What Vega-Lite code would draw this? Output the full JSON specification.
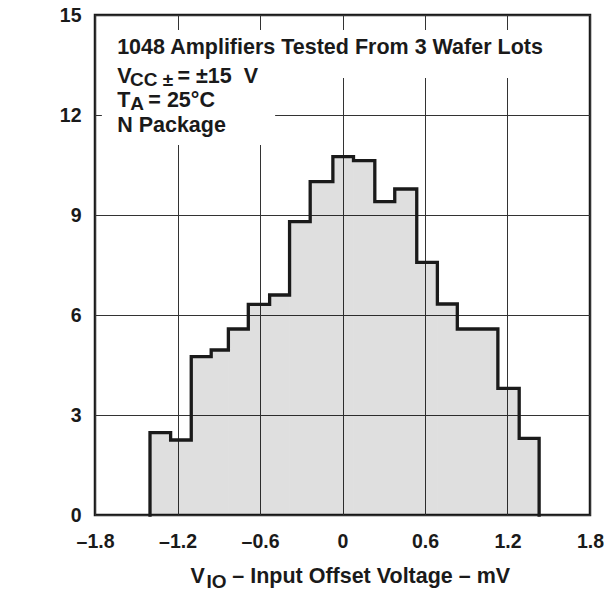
{
  "$schema": "https://vega.github.io/schema/vega-lite/v6.json",
  "width": 495,
  "height": 500,
  "autosize": {"type": "none"},
  "padding": {"left": 95, "top": 15, "right": 14, "bottom": 76},
  "background": "white",
  "view": {"stroke": "#1a1a1a", "strokeWidth": 2.5},
  "config": {
    "font": "Liberation Sans",
    "axis": {
      "domain": false,
      "ticks": false,
      "grid": true,
      "gridColor": "#333333",
      "gridWidth": 1,
      "gridOpacity": 1,
      "labelFont": "Liberation Sans",
      "labelFontWeight": "bold",
      "labelFontSize": 19.5,
      "labelColor": "#1a1a1a",
      "labelOverlap": false,
      "labelFlush": false,
      "titleFont": "Liberation Sans",
      "titleFontWeight": "bold",
      "titleFontSize": 22,
      "titleColor": "#1a1a1a"
    }
  },
  "datasets": {
    "bins": [
      {"start": -1.40, "end": -1.25, "pct": 2.47},
      {"start": -1.25, "end": -1.10, "pct": 2.25},
      {"start": -1.10, "end": -0.955, "pct": 4.75},
      {"start": -0.955, "end": -0.83, "pct": 4.95},
      {"start": -0.83, "end": -0.685, "pct": 5.58},
      {"start": -0.685, "end": -0.53, "pct": 6.32},
      {"start": -0.53, "end": -0.385, "pct": 6.60},
      {"start": -0.385, "end": -0.235, "pct": 8.80},
      {"start": -0.235, "end": -0.07, "pct": 10.00},
      {"start": -0.07, "end": 0.08, "pct": 10.75},
      {"start": 0.08, "end": 0.235, "pct": 10.63},
      {"start": 0.235, "end": 0.38, "pct": 9.40},
      {"start": 0.38, "end": 0.54, "pct": 9.78},
      {"start": 0.54, "end": 0.69, "pct": 7.58},
      {"start": 0.69, "end": 0.835, "pct": 6.33},
      {"start": 0.835, "end": 0.985, "pct": 5.58},
      {"start": 0.985, "end": 1.13, "pct": 5.58},
      {"start": 1.13, "end": 1.285, "pct": 3.80},
      {"start": 1.285, "end": 1.43, "pct": 2.30}
    ],
    "outline": [
      {"i": 0, "x": -1.40, "y": 0},
      {"i": 1, "x": -1.40, "y": 2.47},
      {"i": 2, "x": -1.25, "y": 2.25},
      {"i": 3, "x": -1.10, "y": 4.75},
      {"i": 4, "x": -0.955, "y": 4.95},
      {"i": 5, "x": -0.83, "y": 5.58},
      {"i": 6, "x": -0.685, "y": 6.32},
      {"i": 7, "x": -0.53, "y": 6.60},
      {"i": 8, "x": -0.385, "y": 8.80},
      {"i": 9, "x": -0.235, "y": 10.00},
      {"i": 10, "x": -0.07, "y": 10.75},
      {"i": 11, "x": 0.08, "y": 10.63},
      {"i": 12, "x": 0.235, "y": 9.40},
      {"i": 13, "x": 0.38, "y": 9.78},
      {"i": 14, "x": 0.54, "y": 7.58},
      {"i": 15, "x": 0.69, "y": 6.33},
      {"i": 16, "x": 0.835, "y": 5.58},
      {"i": 17, "x": 1.13, "y": 3.80},
      {"i": 18, "x": 1.285, "y": 2.30},
      {"i": 19, "x": 1.43, "y": 2.30},
      {"i": 20, "x": 1.43, "y": 0}
    ],
    "boxes": [
      {"x": -1.75, "x2": 1.45, "y": 13.11, "y2": 14.55},
      {"x": -1.75, "x2": -0.49, "y": 11.1, "y2": 13.11}
    ],
    "notes": [
      {"text": "1048 Amplifiers Tested From 3 Wafer Lots", "x": -1.639, "y": 13.82, "kind": "main"},
      {"text": "V", "x": -1.639, "y": 12.975, "kind": "main"},
      {"text": "CC ±", "x": -1.545, "y": 12.86, "kind": "sub"},
      {"text": "= ±15 \u00a0V", "x": -1.2, "y": 12.975, "kind": "main"},
      {"text": "T", "x": -1.639, "y": 12.25, "kind": "main"},
      {"text": "A", "x": -1.543, "y": 12.15, "kind": "sub"},
      {"text": "= 25°C", "x": -1.412, "y": 12.25, "kind": "main"},
      {"text": "N Package", "x": -1.639, "y": 11.5, "kind": "main"},
      {"text": "V", "x": -1.105, "y": -2.05, "kind": "main"},
      {"text": "IO", "x": -0.99, "y": -2.2, "kind": "sub"},
      {"text": "– Input Offset Voltage – mV", "x": -0.802, "y": -2.05, "kind": "main"}
    ]
  },
  "layer": [
    {
      "data": {"name": "bins"},
      "mark": {"type": "rect", "fill": "#000000", "fillOpacity": 0.125, "strokeWidth": 0},
      "encoding": {
        "x": {
          "field": "start", "type": "quantitative",
          "scale": {"domain": [-1.8, 1.8], "nice": false, "zero": false},
          "axis": {
            "values": [-1.8, -1.2, -0.6, 0, 0.6, 1.2, 1.8],
            "labelPadding": 17,
            "labelExpr": "datum.value < 0 ? '–' + format(-datum.value, '.1f') : (datum.value == 0 ? '0' : format(datum.value, '.1f'))",
            "title": null
          }
        },
        "x2": {"field": "end"},
        "y": {
          "field": "pct", "type": "quantitative",
          "scale": {"domain": [0, 15], "nice": false},
          "axis": {
            "values": [0, 3, 6, 9, 12, 15],
            "labelPadding": 14,
            "title": "Percentage of Amplifiers – %",
            "titleAngle": 270,
            "titleX": -68,
            "titleY": 268,
            "titleAlign": "center",
            "titleBaseline": "alphabetic"
          }
        },
        "y2": {"datum": 0}
      }
    },
    {
      "data": {"name": "boxes"},
      "mark": {"type": "rect", "fill": "white", "strokeWidth": 0},
      "encoding": {
        "x": {"field": "x", "type": "quantitative", "title": null},
        "x2": {"field": "x2"},
        "y": {"field": "y", "type": "quantitative", "title": null},
        "y2": {"field": "y2"}
      }
    },
    {
      "data": {"name": "outline"},
      "mark": {"type": "line", "interpolate": "step-after", "color": "#1a1a1a", "strokeWidth": 3.3, "strokeJoin": "miter", "strokeCap": "square"},
      "encoding": {
        "x": {"field": "x", "type": "quantitative", "title": null},
        "y": {"field": "y", "type": "quantitative", "title": null},
        "order": {"field": "i", "type": "quantitative"}
      }
    },
    {
      "data": {"name": "notes"},
      "transform": [{"filter": "datum.kind == 'main'"}],
      "mark": {"type": "text", "align": "left", "baseline": "alphabetic", "font": "Liberation Sans", "fontWeight": "bold", "fontSize": 21.5, "color": "#1a1a1a"},
      "encoding": {
        "x": {"field": "x", "type": "quantitative", "title": null},
        "y": {"field": "y", "type": "quantitative", "title": null},
        "text": {"field": "text"}
      }
    },
    {
      "data": {"name": "notes"},
      "transform": [{"filter": "datum.kind == 'sub'"}],
      "mark": {"type": "text", "align": "left", "baseline": "alphabetic", "font": "Liberation Sans", "fontWeight": "bold", "fontSize": 19, "color": "#1a1a1a"},
      "encoding": {
        "x": {"field": "x", "type": "quantitative", "title": null},
        "y": {"field": "y", "type": "quantitative", "title": null},
        "text": {"field": "text"}
      }
    }
  ]
}
